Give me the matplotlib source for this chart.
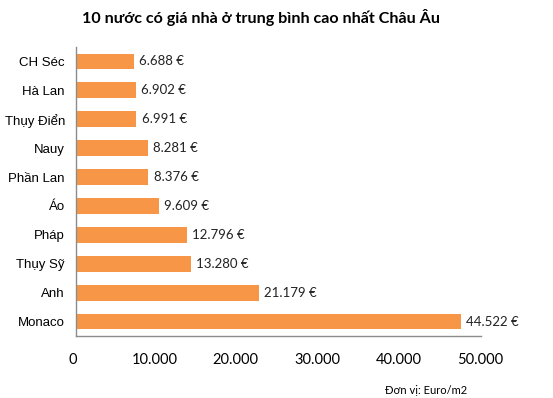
import matplotlib
matplotlib.use("Agg")
import matplotlib.pyplot as plt

countries = ["CH Séc", "Hà Lan", "Thụy Điển", "Nauy", "Phần Lan", "Áo", "Pháp", "Thụy Sỹ", "Anh", "Monaco"]
values = [6688, 6902, 6991, 8281, 8376, 9609, 12796, 13280, 21179, 44522]
labels = ["6.688 €", "6.902 €", "6.991 €", "8.281 €", "8.376 €", "9.609 €", "12.796 €", "13.280 €", "21.179 €", "44.522 €"]
xticks = [0, 10000, 20000, 30000, 40000, 50000]
xticklabels = ["0", "10.000", "20.000", "30.000", "40.000", "50.000"]

W, H = 553, 398
fig = plt.figure(figsize=(W/100, H/100), dpi=100)
ax = fig.add_axes([76/W, 1-336/H, (481-76)/W, (336-47)/H])

n = len(countries)
ypos = [n - 1 - i for i in range(n)]
ax.barh(ypos, values, height=0.53, color="#F79646")
for y, v, l in zip(ypos, values, labels):
    ax.text(v + 600, y, l, va="center", ha="left", fontsize=9.5, family=["Lato", "DejaVu Sans"], color="#222222")

ax.set_xlim(0, 46820)
ax.set_ylim(-0.49, n - 0.51)
ax.set_yticks(ypos)
ax.set_yticklabels(countries, fontsize=9.5, family=["Liberation Sans", "DejaVu Sans"])
ax.set_xticks([])
ax.tick_params(axis="both", length=0)
ax.tick_params(axis="y", pad=8)
for s in ["top", "right"]:
    ax.spines[s].set_visible(False)
for s in ["left", "bottom"]:
    ax.spines[s].set_color("#8c8c8c")
    ax.spines[s].set_linewidth(1.0)

# tick label scale as drawn in the reference
axt = fig.add_axes([73/W, 1-336/H, (480-73)/W, 0.001])
axt.set_xlim(0, 50000)
axt.set_xticks(xticks)
axt.set_xticklabels(xticklabels, fontsize=10.5, family=["Lato", "DejaVu Sans"])
axt.set_yticks([])
axt.tick_params(axis="x", length=0, pad=12)
for s in axt.spines.values():
    s.set_visible(False)
axt.patch.set_visible(False)

fig.text(261.5/W, 1-18/H, "10 nước có giá nhà ở trung bình cao nhất Châu Âu", ha="center", va="center",
         fontsize=11.6, fontweight="bold", family=["Lato", "DejaVu Sans"])
fig.text(426/W, 1-391/H, "Đơn vị: Euro/m2", ha="center", va="center", fontsize=8,
         family=["Lato", "DejaVu Sans"])

fig.savefig("out.png", dpi=100)
